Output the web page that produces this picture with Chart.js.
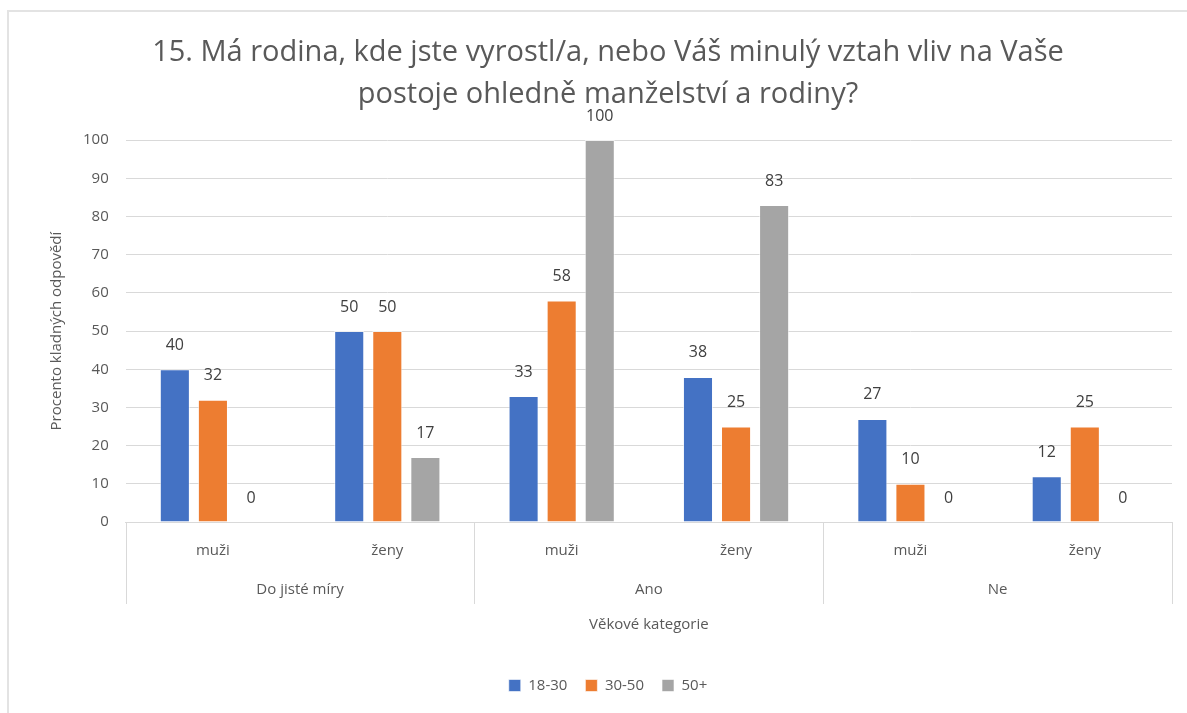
<!DOCTYPE html>
<html>
<head>
<meta charset="utf-8">
<script src="https://cdn.jsdelivr.net/npm/chart.js@4/dist/chart.umd.min.js"></script>
<style>
  html, body { margin: 0; padding: 0; background: #fff; }
  #frame {
    position: absolute; left: 7px; top: 10px; width: 1180px; height: 703px;
    border-top: 2px solid #e3e3e3; border-left: 2px solid #e3e3e3;
  }
  #chart { display: block; }
</style>
</head>
<body>
<div id="frame"><canvas id="chart" width="1178" height="701"></canvas></div>
<script>
  const subLabels = ['muži', 'ženy', 'muži', 'ženy', 'muži', 'ženy'];
  const groupLabels = ['Do jisté míry', 'Ano', 'Ne'];
  const seriesNames = ['18-30', '30-50', '50+'];
  const young = [40, 50, 33, 38, 27, 12];
  const middle = [32, 50, 58, 25, 10, 25];
  const older = [0, 17, 100, 83, 0, 0];
  const colors = ['#4472c4', '#ed7d31', '#a5a5a5'];

  const textColor = '#595959';
  const fontFamily = '"Open Sans", "Noto Sans", sans-serif';

  // value labels above each bar
  const valueLabels = {
    id: 'valueLabels',
    afterDatasetsDraw(chart) {
      const ctx = chart.ctx;
      ctx.save();
      ctx.fillStyle = '#404040';
      ctx.font = '16px ' + fontFamily;
      ctx.textAlign = 'center';
      ctx.textBaseline = 'middle';
      chart.data.datasets.forEach((ds, i) => {
        chart.getDatasetMeta(i).data.forEach((bar, j) => {
          ctx.fillText(ds.data[j], bar.x, bar.y - 24);
        });
      });
      ctx.restore();
    }
  };

  // vertical separators between the category groups
  const groupLines = {
    id: 'groupLines',
    afterDraw(chart) {
      const x = chart.scales.x;
      const g = chart.scales.xGroup;
      const ctx = chart.ctx;
      const edges = [x.left];
      for (let i = 1; i + 1 < subLabels.length; i += 2) {
        edges.push((x.getPixelForValue(i) + x.getPixelForValue(i + 1)) / 2);
      }
      edges.push(x.right);
      // stop above the axis title
      const bottom = g.bottom - 56;
      ctx.save();
      ctx.strokeStyle = '#d9d9d9';
      ctx.lineWidth = 1;
      edges.forEach(px => {
        const xx = Math.round(px) + 0.5;
        ctx.beginPath();
        ctx.moveTo(xx, x.top);
        ctx.lineTo(xx, bottom);
        ctx.stroke();
      });
      ctx.restore();
    }
  };

  new Chart(document.getElementById('chart'), {
    type: 'bar',
    data: {
      labels: subLabels,
      datasets: [young, middle, older].map((d, i) => ({
        label: seriesNames[i],
        data: d,
        backgroundColor: colors[i],
        borderColor: 'rgba(255,255,255,0.6)',
        borderWidth: 1,
        categoryPercentage: 0.655,
        barPercentage: 0.79
      }))
    },
    options: {
      responsive: false,
      animation: false,
      layout: { padding: { left: 35, right: 15, top: 20, bottom: 10 } },
      plugins: {
        title: {
          display: true,
          text: ['15. Má rodina, kde jste vyrostl/a, nebo Váš minulý vztah vliv na Vaše',
                 'postoje ohledně manželství a rodiny?'],
          color: textColor,
          font: { family: fontFamily, size: 29, weight: 'normal', lineHeight: 1.45 },
          padding: { top: 0, bottom: 24 }
        },
        legend: {
          position: 'bottom',
          labels: {
            color: textColor,
            font: { family: fontFamily, size: 15 },
            boxWidth: 12,
            boxHeight: 12,
            padding: 18
          }
        },
        tooltip: { enabled: false }
      },
      scales: {
        x: {
          position: 'bottom',
          grid: { drawOnChartArea: false, drawTicks: false },
          border: { color: '#d9d9d9' },
          ticks: {
            color: textColor,
            font: { family: fontFamily, size: 15 },
            padding: 20
          }
        },
        xGroup: {
          type: 'category',
          position: 'bottom',
          labels: groupLabels,
          grid: { display: false },
          border: { display: false },
          ticks: {
            color: textColor,
            font: { family: fontFamily, size: 15 },
            padding: -7
          },
          title: {
            display: true,
            text: 'Věkové kategorie',
            color: textColor,
            font: { family: fontFamily, size: 15 },
            padding: { top: 24, bottom: 26 }
          }
        },
        y: {
          min: 0,
          max: 100,
          ticks: {
            stepSize: 10,
            color: textColor,
            font: { family: fontFamily, size: 15 },
            padding: 17
          },
          grid: { color: '#d9d9d9', drawTicks: false },
          border: { display: false },
          title: {
            display: true,
            text: 'Procento kladných odpovědí',
            color: textColor,
            font: { family: fontFamily, size: 15 },
            padding: { bottom: 0 }
          }
        }
      }
    },
    plugins: [valueLabels, groupLines]
  });
</script>
</body>
</html>
